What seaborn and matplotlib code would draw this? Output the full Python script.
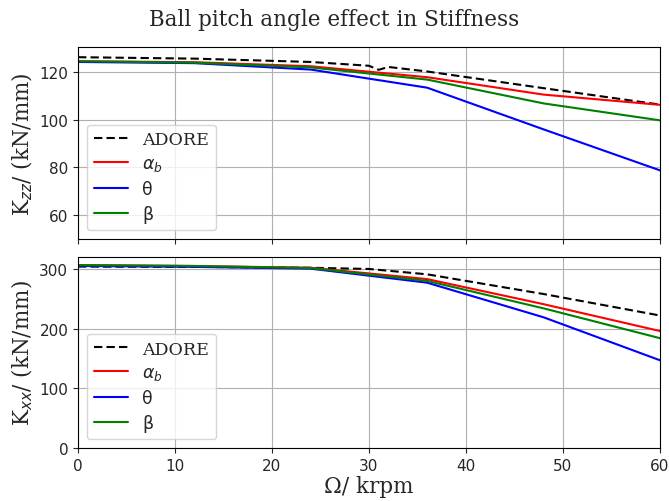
import matplotlib
matplotlib.use("Agg")
import matplotlib.pyplot as plt
import seaborn as sns
import pandas as pd

# ---- data ----
speed = [0, 12, 24, 36, 48, 60]
adore_speed_zz = [0, 12, 24, 30, 31, 32, 36, 48, 60]
adore_zz = [126.3, 125.7, 124.3, 122.7, 121.0, 122.2, 120.3, 113.3, 106.4]
alpha_zz = [124.6, 124.2, 122.5, 117.9, 110.6, 106.3]
theta_zz = [124.3, 123.8, 121.1, 113.5, 96.0, 78.8]
beta_zz = [124.6, 124.0, 122.0, 116.9, 106.9, 99.8]

adore_speed_xx = [0, 12, 24, 30, 36, 48, 60]
adore_xx = [304.0, 303.5, 302.0, 300.0, 291.0, 258.0, 222.0]
alpha_xx = [306.5, 305.0, 302.0, 283.0, 241.0, 196.0]
theta_xx = [305.0, 303.5, 300.5, 277.0, 219.0, 147.0]
beta_xx = [306.5, 305.0, 301.5, 280.0, 234.0, 184.0]

labels = ["ADORE", r"$\alpha_b$", "θ", "β"]
colors = ["black", "red", "blue", "green"]

sns.set_style("ticks")
plt.rcParams["font.family"] = ["DejaVu Sans"]
SERIF = ["DejaVu Serif", "DejaVu Sans"]


def long_df(adore_s, adore_v, a, t, b):
    frames = [pd.DataFrame({"x": adore_s, "y": adore_v, "s": labels[0]})]
    for lab, vals in zip(labels[1:], [a, t, b]):
        frames.append(pd.DataFrame({"x": speed, "y": vals, "s": lab}))
    return pd.concat(frames, ignore_index=True)


df_zz = long_df(adore_speed_zz, adore_zz, alpha_zz, theta_zz, beta_zz)
df_xx = long_df(adore_speed_xx, adore_xx, alpha_xx, theta_xx, beta_xx)

fig = plt.figure(figsize=(6.69, 5.02), dpi=100)
ax1 = fig.add_axes([0.1166, 0.522, 0.8699, 0.382])
ax2 = fig.add_axes([0.1166, 0.1056, 0.8699, 0.3804], sharex=ax1)

pal = dict(zip(labels, colors))
dashes = {labels[0]: (4, 2), labels[1]: "", labels[2]: "", labels[3]: ""}

for ax, df, ylab, ylim, yt in [
    (ax1, df_zz, r"K$_{zz}$/ (kN/mm)", (50, 130.5), [60, 80, 100, 120]),
    (ax2, df_xx, r"K$_{xx}$/ (kN/mm)", (0, 320), [0, 100, 200, 300]),
]:
    sns.lineplot(data=df, x="x", y="y", hue="s", style="s", palette=pal,
                 dashes=dashes, hue_order=labels, style_order=labels,
                 linewidth=1.5, ax=ax, estimator=None, sort=False)
    ax.set_ylim(*ylim)
    ax.set_yticks(yt)
    ax.set_xlim(0, 60)
    ax.grid(True, color="#b0b0b0", linewidth=0.8)
    ax.set_ylabel(ylab, fontsize=15.5, family=SERIF, labelpad=3)
    ax.set_xlabel("")
    ax.tick_params(labelsize=11)
    for sp in ax.spines.values():
        sp.set_visible(True)
        sp.set_color("black")
    leg = ax.legend(loc="lower left", frameon=True, labelspacing=0.4,
                    prop={"family": SERIF, "size": 12.5})
    for line in leg.get_lines():
        line.set_linewidth(1.5)
    for t in leg.get_texts():
        if t.get_text() in ("θ", "β"):
            t.set_family("DejaVu Sans")

ax1.tick_params(labelbottom=False)
ax2.set_xticks([0, 10, 20, 30, 40, 50, 60])
ax2.set_xlabel("Ω/ krpm", fontsize=15.5, family=SERIF, labelpad=2)
fig.suptitle("Ball pitch angle effect in Stiffness", fontsize=15.5,
             family=SERIF, y=0.982)

fig.savefig("out.png", dpi=100)
